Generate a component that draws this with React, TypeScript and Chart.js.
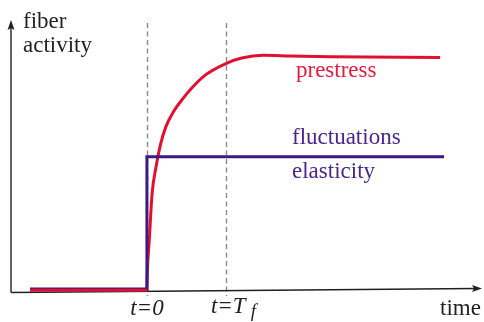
import React, { useEffect, useRef } from "react";
import { Chart, registerables } from "chart.js";

Chart.register(...registerables);

// time axis values (t in units of T_f) and activity values (0..100)
const baselineT = [-1.48, 0];
const baselineV = [0.6, 0.6];
const prestressT = [0, 0.005, 0.03, 0.065, 0.115, 0.17, 0.24, 0.33, 0.46, 0.6, 0.75, 1.0, 1.2, 1.47, 1.81, 2.32, 3.71];
const prestressV = [0.6, 7.0, 19.1, 36.0, 46.0, 54.0, 60.8, 66.0, 71.3, 76.0, 80.0, 84.0, 86.0, 87.0, 86.8, 86.5, 86.2];
const elasticityT = [-1.48, 0, 0, 3.76];
const elasticityV = [1.1, 1.1, 49.7, 49.7];
const markerT = [0, 1];
const markerMain = ["t=0", "t=T"];
const markerSub = ["", "f"];
const yAxisTitle = ["fiber", "activity"];
const xAxisTitle = "time";
const seriesLabels = ["prestress", "fluctuations", "elasticity"];

const RED = "#e2102f";
const PURPLE = "#3b1a82";
const RED_TEXT = "#e01c3c";
const PURPLE_TEXT = "#4a2788";
const INK = "#231f20";

const toPts = (xs: number[], ys: number[]) => xs.map((x, i) => ({ x, y: ys[i] }));

const SERIF = "'Liberation Serif', 'Times New Roman', serif";

const decorPlugin = {
  id: "decor",
  beforeDatasetsDraw(chart: any) {
    const { ctx, chartArea, scales } = chart;
    const xs = scales.x;
    ctx.save();
    // dashed markers
    ctx.strokeStyle = "#8a8a8a";
    ctx.lineWidth = 1.4;
    ctx.setLineDash([5, 3.5]);
    markerT.forEach((t) => {
      const px = Math.round(xs.getPixelForValue(t)) + 0.5;
      ctx.beginPath();
      ctx.moveTo(px, chartArea.top + 3);
      ctx.lineTo(px, chartArea.bottom + 4);
      ctx.stroke();
    });
    ctx.setLineDash([]);
    // axes with arrows
    ctx.strokeStyle = INK;
    ctx.fillStyle = INK;
    ctx.lineWidth = 1.4;
    const x0 = chartArea.left;
    const y0 = chartArea.bottom;
    ctx.beginPath();
    ctx.moveTo(x0, y0 + 0.5);
    ctx.lineTo(x0, chartArea.top + 6);
    ctx.stroke();
    ctx.beginPath();
    ctx.moveTo(x0, chartArea.top);
    ctx.lineTo(x0 - 3.5, chartArea.top + 10);
    ctx.lineTo(x0, chartArea.top + 8);
    ctx.lineTo(x0 + 3.5, chartArea.top + 10);
    ctx.closePath();
    ctx.fill();
    const xr = chartArea.right;
    const yr = y0 - 3.5;
    ctx.beginPath();
    ctx.moveTo(x0, y0 + 0.5);
    ctx.lineTo(xr - 6, yr);
    ctx.stroke();
    ctx.beginPath();
    ctx.moveTo(xr, yr);
    ctx.lineTo(xr - 10, yr - 3.5);
    ctx.lineTo(xr - 8, yr);
    ctx.lineTo(xr - 10, yr + 3.5);
    ctx.closePath();
    ctx.fill();
    ctx.restore();
  },
  afterDatasetsDraw(chart: any) {
    const { ctx, chartArea, scales } = chart;
    const xs = scales.x;
    const ys = scales.y;
    ctx.save();
    ctx.textBaseline = "alphabetic";
    ctx.textAlign = "left";
    ctx.font = `23px ${SERIF}`;
    ctx.fillStyle = INK;
    ctx.fillText(yAxisTitle[0], chartArea.left + 12, 27.5);
    ctx.fillText(yAxisTitle[1], chartArea.left + 12, 52);
    ctx.fillText(xAxisTitle, 440, 315);
    // series labels
    ctx.fillStyle = RED_TEXT;
    ctx.fillText(seriesLabels[0], 296, ys.getPixelForValue(prestressV[prestressV.length - 1]) + 19);
    ctx.fillStyle = PURPLE_TEXT;
    const py = ys.getPixelForValue(elasticityV[elasticityV.length - 1]);
    ctx.fillText(seriesLabels[1], 292, py - 12.5);
    ctx.fillText(seriesLabels[2], 292, py + 21.5);
    // marker labels
    ctx.fillStyle = INK;
    markerT.forEach((t, i) => {
      const px = xs.getPixelForValue(t);
      ctx.font = `italic 23px ${SERIF}`;
      const w = ctx.measureText(markerMain[i]).width;
      const left = markerSub[i] ? px - 15 : px - w / 2;
      ctx.fillText(markerMain[i], left, markerSub[i] ? 313 : 315);
      if (markerSub[i]) {
        ctx.font = `italic 19px ${SERIF}`;
        ctx.fillText(markerSub[i], left + w + 5, 317);
      }
    });
    ctx.restore();
  },
};

export default function App() {
  const ref = useRef<HTMLCanvasElement | null>(null);
  useEffect(() => {
    document.body.style.margin = "0";
    const canvas = ref.current;
    if (!canvas) return;
    const chart = new Chart(canvas, {
      type: "line",
      data: {
        datasets: [
          {
            label: "prestress baseline",
            data: toPts(baselineT, baselineV),
            borderColor: RED,
            borderWidth: 3,
            pointRadius: 0,
            tension: 0,
          },
          {
            label: seriesLabels[1] + " / " + seriesLabels[2],
            data: toPts(elasticityT, elasticityV),
            borderColor: PURPLE,
            borderWidth: 3,
            pointRadius: 0,
            tension: 0,
          },
          {
            label: seriesLabels[0],
            data: toPts(prestressT, prestressV),
            borderColor: RED,
            borderWidth: 3,
            pointRadius: 0,
            cubicInterpolationMode: "monotone",
          },
        ],
      },
      options: {
        responsive: false,
        animation: false,
        layout: { padding: { left: 11, right: 2, top: 20, bottom: 30 } },
        plugins: { legend: { display: false }, tooltip: { enabled: false }, title: { display: false } },
        scales: {
          x: { type: "linear", min: -1.72, max: 4.24, display: false },
          y: { type: "linear", min: 0, max: 100, display: false },
        },
      },
      plugins: [decorPlugin],
    } as any);
    return () => chart.destroy();
  }, []);
  return <canvas ref={ref} width={484} height={322} style={{ display: "block", width: 484, height: 322 }} />;
}
